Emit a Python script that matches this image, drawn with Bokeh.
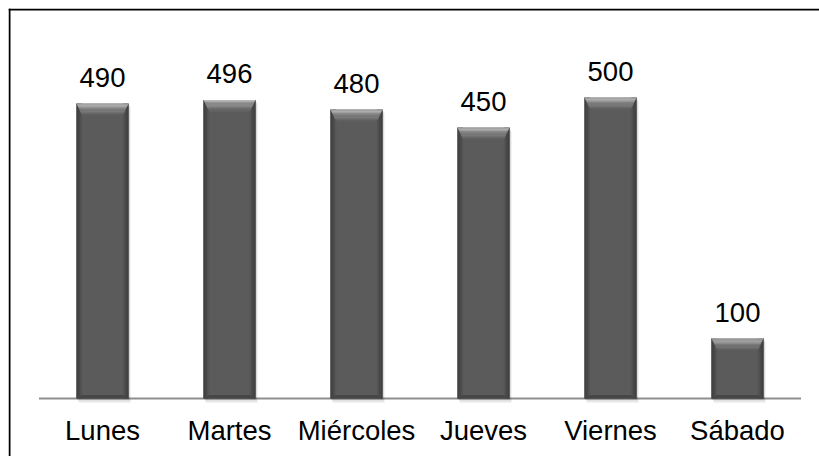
from bokeh.plotting import figure
from bokeh.models import ColumnDataSource, Range1d, Span
from bokeh.core.properties import value
from bokeh.embed import file_html
from bokeh.resources import INLINE

# ---- data ----
days = ["Lunes", "Martes", "Miércoles", "Jueves", "Viernes", "Sábado"]
values = [490, 496, 480, 450, 500, 100]
value_labels = [str(v) for v in values]

# ---- styling constants ----
BAR_W = 0.41
SIDE = 0.045         # side bevel width (data x)
TOP_H = 20.0         # top bevel height (data y)
BOT_H = 6.0
FONT = "Liberation Sans"

xs = list(range(len(days)))

X0, X1 = -0.7402, 5.6457
Y0, Y1 = -96.35, 647.8
p = figure(width=819, height=456, output_backend="svg", toolbar_location=None,
           x_range=Range1d(X0, X1), y_range=Range1d(Y0, Y1),
           x_axis_location=None, y_axis_location=None,
           min_border_left=8, min_border_top=8, min_border_right=0, min_border_bottom=0)
p.grid.visible = False
p.outline_line_color = None
p.background_fill_color = "white"
p.border_fill_color = "white"

# chart border (left and top edges visible in window)
p.add_layout(Span(location=X0 + 1.0 / 127, dimension="height", line_color="black", line_width=2))
p.add_layout(Span(location=Y1 - 1.0 / 0.602, dimension="width", line_color="black", line_width=2))

# axis line
p.segment(x0=[-0.5], y0=[0], x1=[len(days) - 0.5], y1=[0], line_color="#8e8e8e", line_width=2)

lefts = [x - BAR_W / 2 for x in xs]
rights = [x + BAR_W / 2 for x in xs]

# soft shadow
for k, a in enumerate([0.10, 0.07, 0.05]):
    d = 0.006 * (k + 1)
    p.quad(left=[l + d for l in lefts], right=[r + d for r in rights],
           top=[v - 2 * (k + 1) for v in values], bottom=[-2.5 * (k + 1)] * len(xs),
           fill_color="black", fill_alpha=a, line_color=None)

# main body
src = ColumnDataSource(dict(x=xs, top=values, left=lefts, right=rights, label=value_labels, day=days))
p.quad(left="left", right="right", top="top", bottom=0, source=src,
       fill_color="#5b5b5b", line_color=None)

# side bevels (gradient strips)
side_cols = ["#353535", "#3f3f3f", "#474747", "#4f4f4f", "#555555"]
n = len(side_cols)
for k, c in enumerate(side_cols):
    a0 = SIDE * k / n
    a1 = SIDE * (k + 1) / n
    p.quad(left=[l + a0 for l in lefts], right=[l + a1 for l in lefts],
           top=values, bottom=[0] * len(xs), fill_color=c, line_color=None)
    p.quad(left=[r - a1 for r in rights], right=[r - a0 for r in rights],
           top=values, bottom=[0] * len(xs), fill_color=c, line_color=None)

# bottom bevel
p.patches(xs=[[l, r, r - SIDE, l + SIDE] for l, r in zip(lefts, rights)],
          ys=[[0, 0, BOT_H, BOT_H] for _ in xs],
          fill_color="#464646", line_color=None)

# top bevel gradient
top_cols = ["#b8b8b8", "#acacac", "#a0a0a0", "#959595", "#8b8b8b", "#818181",
            "#787878", "#707070", "#686868", "#616161"]
m = len(top_cols)
for k, c in enumerate(top_cols):
    f0 = k / m
    f1 = (k + 1) / m
    pxs, pys = [], []
    for l, r, v in zip(lefts, rights, values):
        pxs.append([l + SIDE * f0, r - SIDE * f0, r - SIDE * f1, l + SIDE * f1])
        pys.append([v - TOP_H * f0, v - TOP_H * f0, v - TOP_H * f1, v - TOP_H * f1])
    p.patches(xs=pxs, ys=pys, fill_color=c, line_color=None)

# value labels
p.text(x="x", y="top", text="label", source=src, text_align="center",
       text_baseline="alphabetic", y_offset=-26, text_font=value(FONT),
       text_font_size="27.5px", text_color="black")

# category labels
p.text(x="x", y=0, text="day", source=src, text_align="center",
       text_baseline="alphabetic", y_offset=32, text_font=value(FONT),
       text_font_size="27.5px", text_color="black")

open("out.html", "w").write(file_html(p, INLINE))
